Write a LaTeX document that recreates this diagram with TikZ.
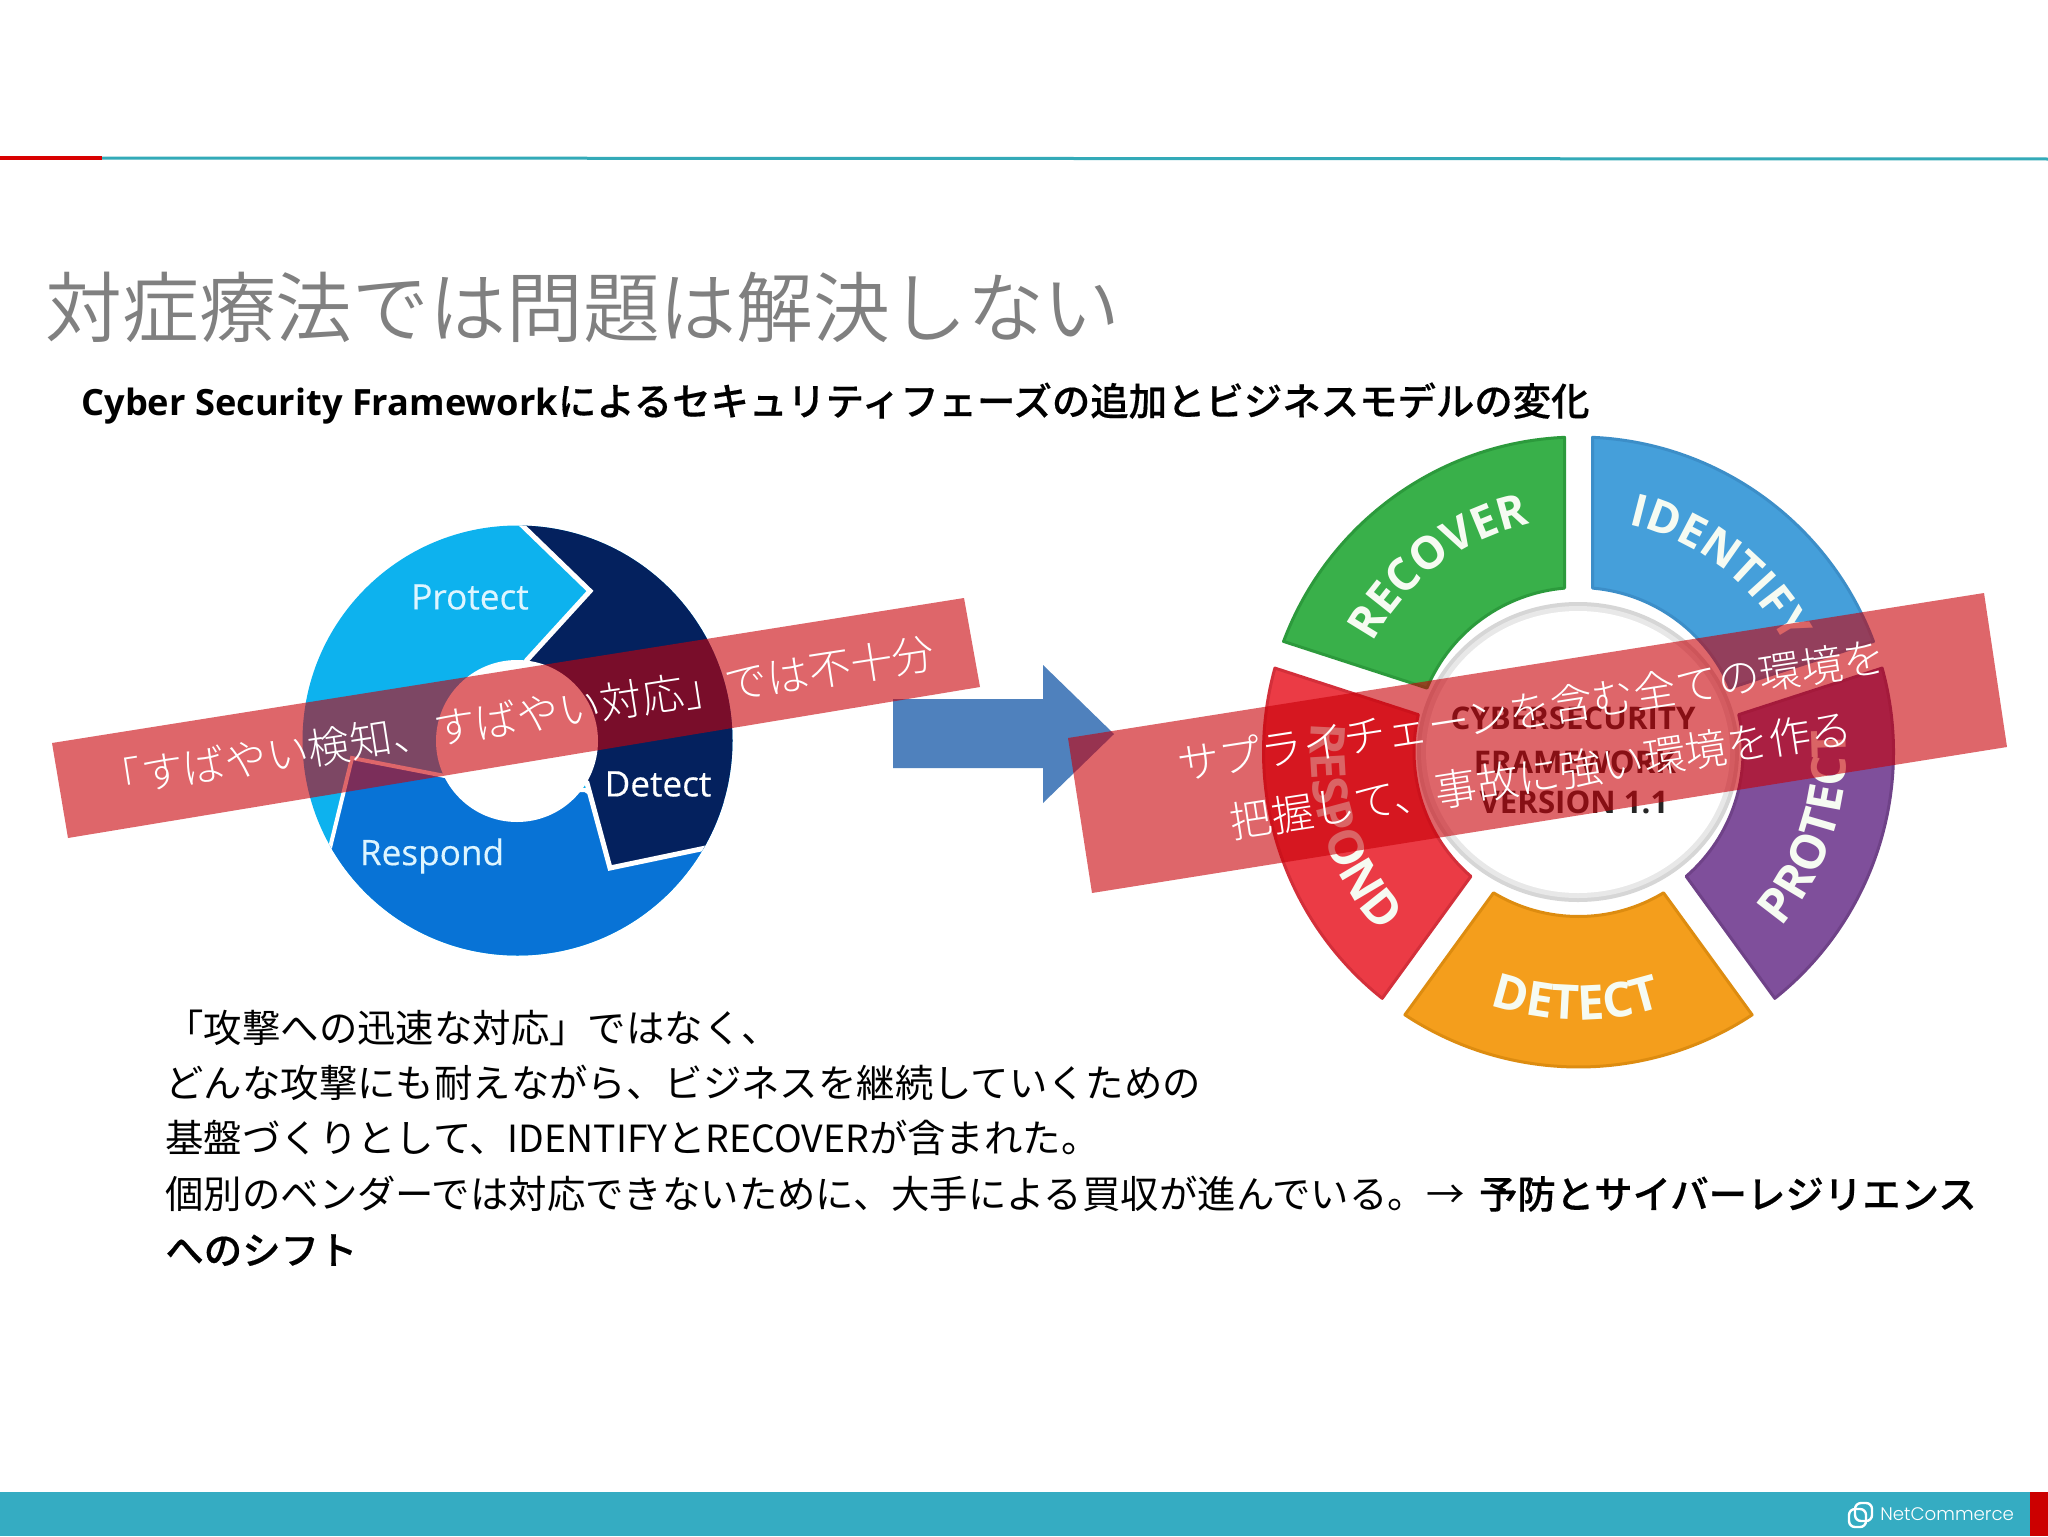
\documentclass[tikz,border=0pt]{standalone}
\usepackage{fontspec}
\usetikzlibrary{decorations.text}
\setmainfont{Open Sans}
\newfontfamily\jp{Noto Sans CJK JP}
\newfontfamily\jplight{Noto Sans CJK JP Light}
\newfontfamily\jpdemi{Noto Sans CJK JP DemiLight}
\newfontfamily\jpmed[FakeBold=0.35]{Noto Sans CJK JP Medium}
\newfontfamily\logofont{Poppins Light}
\newfontfamily\labelfont[FakeBold=0.3]{Open Sans}
\definecolor{titlegray}{HTML}{808080}
\definecolor{bandred}{HTML}{C80008}
\definecolor{teal}{HTML}{35ACC2}
\definecolor{rule}{HTML}{33AAB8}
\definecolor{prot}{HTML}{0DB2EE}
\definecolor{dete}{HTML}{04215E}
\definecolor{resp}{HTML}{0873D6}
\definecolor{labpale}{HTML}{DDF5FF}
\definecolor{wtxt}{HTML}{F6FBF2}
\definecolor{arrowblue}{HTML}{4F81BD}
\newcommand{\fs}[1]{\fontsize{#1}{#1}\selectfont}
\newcommand{\wheelfont}{\bfseries\fs{22.5}\color{wtxt}}
\newcommand{\wheelfontlow}{\bfseries\fs{24}\color{wtxt}}
\newcommand{\sector}[4]{%
  \filldraw[fill=#3,draw=#4,line width=1.5pt,line join=round]
    (#2-2.55:315) arc[start angle=#2-2.55,end angle=#1+2.55,radius=315]
    -- (#1+4.88:164.5) arc[start angle=#1+4.88,end angle=#2-4.88,radius=164.5] -- cycle;}
\tikzset{
  band/.style={fill=bandred,fill opacity=0.6},
  bandtext/.style={text=white,rotate=8.8,inner sep=0pt,font=\jplight\fs{21.1}},
  bodyline/.style={anchor=base west,inner sep=0pt,text=black,font=\jp\fs{19.2}},
  wheellabel/.style={text=labpale,inner sep=0pt,font=\labelfont\fs{17.6}},
  corelabel/.style={text=black!85,inner sep=0pt,font=\bfseries\fs{15.6}},
  logoring/.style={draw=white,line width=1.2pt,rounded corners=3pt}
}
\begin{document}
\begin{tikzpicture}[x=0.5pt,y=-0.5pt]
\useasboundingbox (0,0) rectangle (2048,1536);
\fill[white] (0,0) rectangle (2048,1536);
% header rule
\fill[rule] (102,156.5) -- (2048,157.5) -- (2048,160.5) -- (102,159.5) -- cycle;
\fill[red!85!black] (0,156) rectangle (102,160);
% footer
\fill[teal] (0,1492) rectangle (2048,1536);
\fill[red!80!black] (2030,1492) rectangle (2048,1536);
\draw[logoring] (1849,1509) rectangle (1866,1527);
\draw[logoring] (1855,1503) rectangle (1872,1521);
\node[anchor=west,inner sep=0pt,text=white,font=\logofont\fs{9.1}] (logotext) at (1880,1514) {NetCommerce};
% title
\node[anchor=base west,inner sep=0pt,text=titlegray,font=\jpdemi\fs{38.4}] (title) at (45,336) {対症療法では問題は解決しない};
\node[anchor=base west,inner sep=0pt,text=black] (subtitle) at (81,415.5)
  {\bfseries\fs{18.1}Cyber Security Framework{\jpmed\mdseries\fs{19.2}によるセキュリティフェーズの追加とビジネスモデルの変化}};
% left wheel
\begin{scope}
  \clip (517.5,740.5) circle[radius=215];
  \fill[prot] (300,500) rectangle (740,980);
  \fill[resp,draw=white,line width=2pt] (316,905) -- (352,758) -- (445,776) -- (560,790) -- (585,790) -- (600,800) -- (790,800) -- (790,1000) -- (316,1000) -- cycle;
  \fill[dete,draw=white,line width=2.5pt] (498,502) -- (590,591) -- (527,660) -- (500,700) -- (587,783) -- (610,868) -- (720,845) -- (800,830) -- (800,480) -- (498,480) -- cycle;
\end{scope}
\fill[white] (517,741) circle[radius=81];
\node[wheellabel] (lprotect) at (470,597) {Protect};
\node[wheellabel,text=white] (ldetect) at (658,784) {Detect};
\node[wheellabel] (lrespond) at (432,856) {Respond};
% blue arrow
\fill[arrowblue] (893,699) -- (1043,699) -- (1043,665) -- (1114,734) -- (1043,803) -- (1043,768) -- (893,768) -- cycle;
% right wheel
\begin{scope}[shift={(1578.5,752)},x=0.5pt,y=0.5pt]
  \definecolor{cid}{HTML}{459FDA}\definecolor{cidE}{HTML}{3C8EC8}
  \definecolor{cpr}{HTML}{7F4F9B}\definecolor{cprE}{HTML}{6F4288}
  \definecolor{cde}{HTML}{F49E1C}\definecolor{cdeE}{HTML}{DD8C10}
  \definecolor{cre}{HTML}{EB3B45}\definecolor{creE}{HTML}{D32F3A}
  \definecolor{cgr}{HTML}{39B04A}\definecolor{cgrE}{HTML}{2C9A3C}
  \sector{18}{90}{cid}{cidE}
  \sector{-54}{18}{cpr}{cprE}
  \sector{-126}{-54}{cde}{cdeE}
  \sector{162}{234}{cre}{creE}
  \sector{90}{162}{cgr}{cgrE}
  \path[decorate,decoration={text along path,text align=center,text={|\wheelfont|RECOVER}}]
    (159:233) arc[start angle=159,end angle=95,radius=233];
  \path[decorate,decoration={text along path,text align=center,text={|\wheelfont|IDENTIFY}}]
    (84.5:233) arc[start angle=84.5,end angle=20.5,radius=233];
  \path[decorate,decoration={text along path,text align=center,text={|\wheelfontlow|PROTECT}}]
    (-50:268) arc[start angle=-50,end angle=14,radius=268];
  \path[decorate,decoration={text along path,text align=center,text={|\wheelfontlow|DETECT}}]
    (-122.5:268) arc[start angle=-122.5,end angle=-58.5,radius=268];
  \path[decorate,decoration={text along path,text align=center,text={|\wheelfontlow|RESPOND}}]
    (166:268) arc[start angle=166,end angle=230,radius=268];
\end{scope}
\fill[black!16] (1578,752) ellipse[x radius=161,y radius=150];
\fill[black!9] (1578,752) ellipse[x radius=157,y radius=146];
\fill[white] (1578,752) ellipse[x radius=152,y radius=141];
\node[corelabel] (core1) at (1573,718) {CYBERSECURITY};
\node[corelabel] (core2) at (1575,762) {FRAMEWORK};
\node[corelabel] (core3) at (1574,802) {VERSION 1.1};
% red bands
\fill[band] (52,743) -- (964,598) -- (980,687) -- (68,838) -- cycle;
\fill[band] (1068,738) -- (1984,593) -- (2007,747) -- (1092,893) -- cycle;
\node[bandtext] (bandL) at (517,717) {「すばやい検知、すばやい対応」では不十分};
\node[bandtext] (bandR1) at (1531,710) {サプライチェーンを含む全ての環境を};
\node[bandtext] (bandR2) at (1541,775) {把握して、事故に強い環境を作る};
% body
\node[bodyline] (b1) at (165,1042.5) {「攻撃への迅速な対応」ではなく、};
\node[bodyline] (b2) at (165,1097.5) {どんな攻撃にも耐えながら、ビジネスを継続していくための};
\node[bodyline] (b3) at (165,1152.5) {基盤づくりとして、{\fs{18.7}IDENTIFY}と{\fs{18.7}RECOVER}が含まれた。};
\node[bodyline] (b4) at (165,1208.5) {個別のベンダーでは対応できないために、大手による買収が進んでいる。\makebox[26.5pt][l]{→}{\jpmed\fs{19.2}予防とサイバーレジリエンス}};
\node[bodyline] (b5) at (165,1264.5) {\jpmed\fs{19.2}へのシフト};
\end{tikzpicture}
\end{document}
